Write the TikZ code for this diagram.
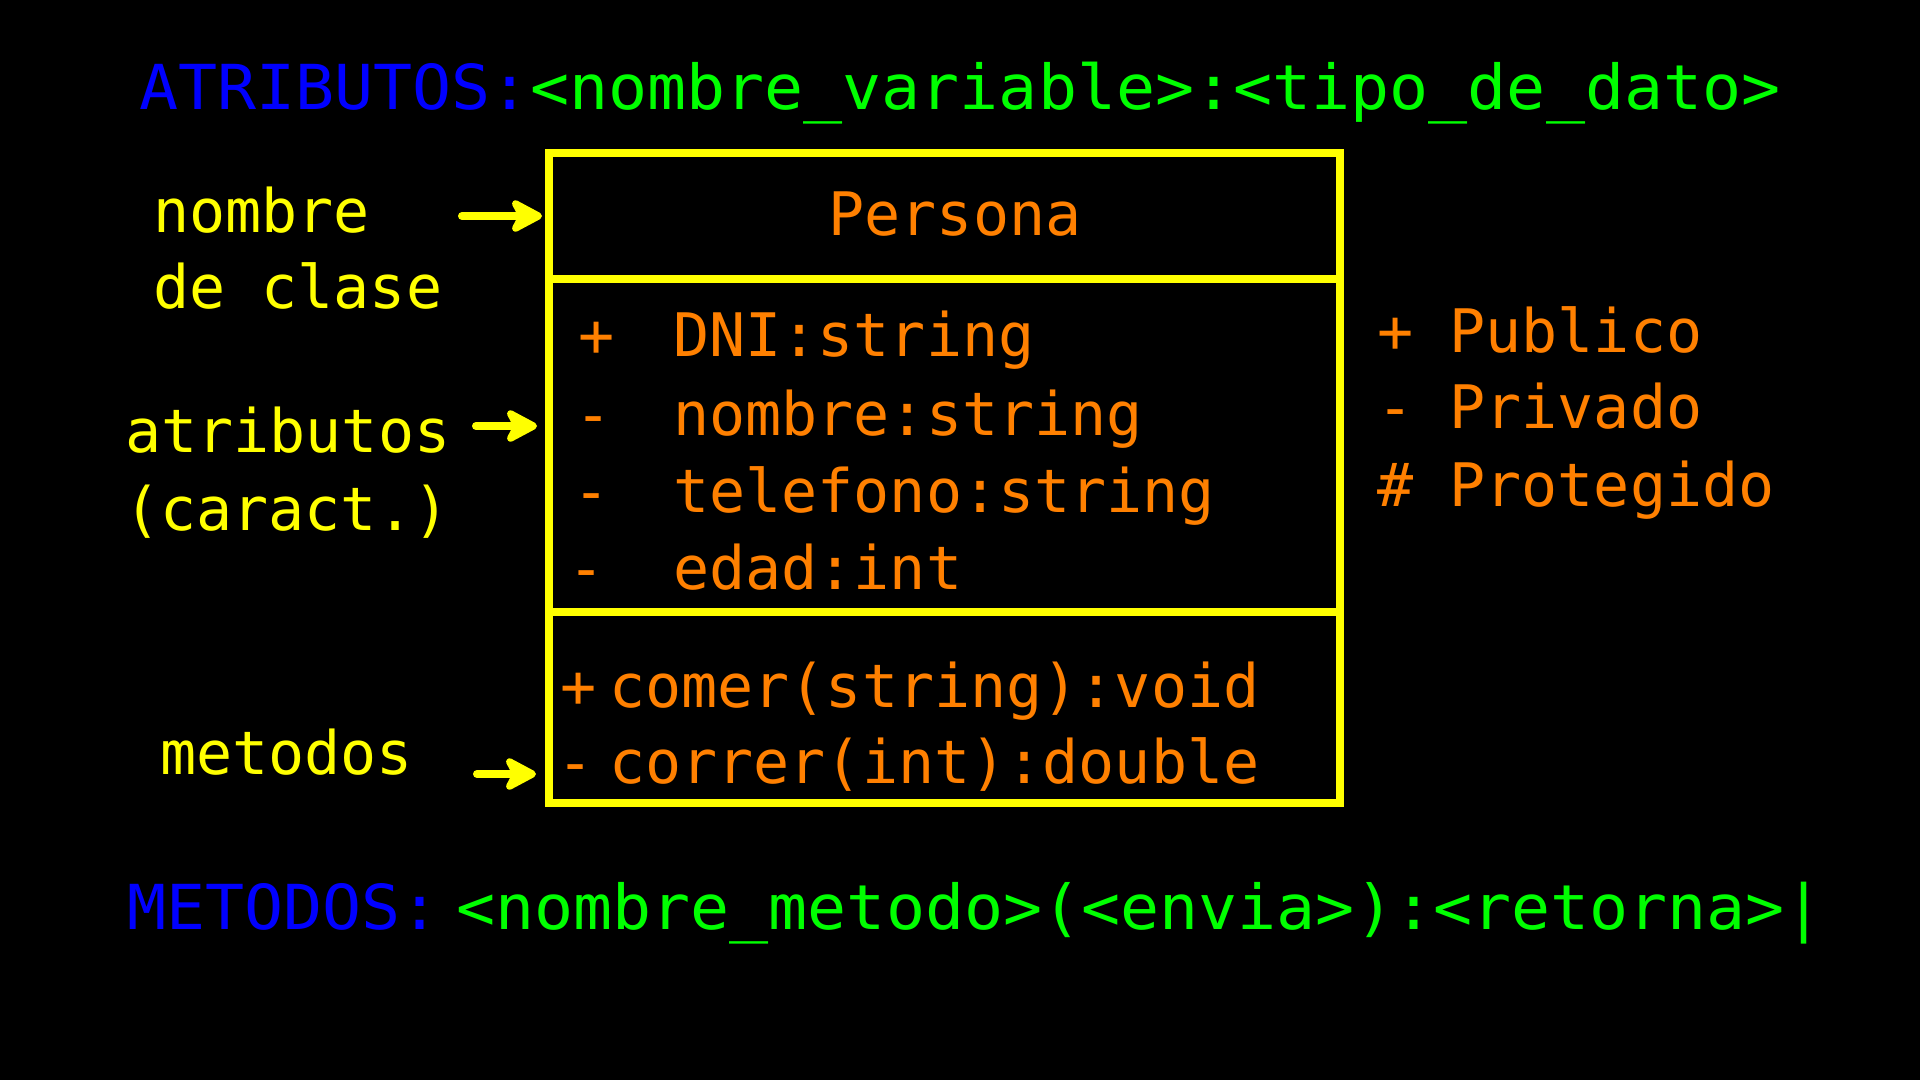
\documentclass[tikz,border=0pt]{standalone}
\usepackage{fontspec}
\usetikzlibrary{arrows.meta}
\newfontfamily\monoA[FakeStretch=1.047]{DejaVu Sans Mono}
\newfontfamily\monoB{DejaVu Sans Mono}
\definecolor{cblue}{RGB}{0,0,255}
\definecolor{cgreen}{RGB}{0,255,0}
\definecolor{cyellow}{RGB}{255,255,0}
\definecolor{corange}{RGB}{255,128,0}
\tikzset{
  headline/.style={anchor=base west, inner sep=0pt, font=\monoA\fontsize{62}{70}\selectfont},
  lbl/.style={anchor=base west, inner sep=0pt, text=cyellow, font=\monoB\fontsize{60}{70}\selectfont},
  member/.style={anchor=base west, inner sep=0pt, text=corange, font=\monoB\fontsize{60}{68}\selectfont},
  sym/.style={anchor=base, inner sep=0pt, text=corange, font=\monoB\fontsize{60}{68}\selectfont},
  legend/.style={anchor=base west, inner sep=0pt, text=corange, font=\monoB\fontsize{60}{70}\selectfont},
  ptr/.style={draw=cyellow, line width=8pt, line cap=round,
    -{Stealth[length=38pt,width=40pt,inset=10pt,round]}},
  boxline/.style={draw=cyellow, line width=8pt}
}
\begin{document}
\begin{tikzpicture}[x=1pt,y=-1pt]
\fill[black] (0,0) rectangle (1920,1080);
\useasboundingbox (0,0) rectangle (1920,1080);

% header lines
\node[headline] (hattr) at (139,109) {\textcolor{cblue}{ATRIBUTOS:}\textcolor{cgreen}{<nombre\_variable>:<tipo\_de\_dato>}};
\node[headline, text=cblue] (hmet) at (127,929) {METODOS:};
\node[headline, text=cgreen] (hmetf) at (456,929) {<nombre\_metodo>(<envia>):<retorna>|};

% class box
\node[boxline, anchor=north west, minimum width=791pt, minimum height=650pt, inner sep=0pt, outer sep=0pt] (box) at (549,153) {};
\coordinate (d1a) at (549,279);
\coordinate (d1b) at (1340,279);
\coordinate (d2a) at (549,612);
\coordinate (d2b) at (1340,612);
\draw[boxline] (d1a) -- (d1b);
\draw[boxline] (d2a) -- (d2b);

\node[anchor=base, inner sep=0pt, text=corange, font=\monoB\fontsize{60}{68}\selectfont] (cname) at (955,235) {Persona};

\node[sym] (s1) at (597,356) {+};
\node[sym] (s2) at (594,435) {-};
\node[sym] (s3) at (592,512) {-};
\node[sym] (s4) at (587,589) {-};
\node[member] (a1) at (673,356) {DNI:string};
\node[member] (a2) at (673,435) {nombre:string};
\node[member] (a3) at (673,512) {telefono:string};
\node[member] (a4) at (673,589) {edad:int};

\node[sym] (s5) at (579,707) {+};
\node[sym] (s6) at (576,783) {-};
\node[member] (m1) at (609,707) {comer(string):void};
\node[member] (m2) at (609,783) {correr(int):double};

% legend
\node[legend] (l1) at (1377,352) {+ Publico};
\node[legend] (l2) at (1377,428) {- Privado};
\node[legend] (l3) at (1377,506) {\# Protegido};

% left labels
\node[lbl] (n1) at (153,232) {nombre};
\node[lbl] (n2) at (153,308) {de clase};
\node[lbl] (n3) at (125,452) {atributos};
\node[lbl] (n4) at (124,530) {(caract.)};
\node[lbl] (n5) at (160,774) {metodos};

% arrows
\coordinate (p1) at (462,216);
\coordinate (q1) at (542,216);
\coordinate (p2) at (476,426);
\coordinate (q2) at (537,426);
\coordinate (p3) at (477,774);
\coordinate (q3) at (536,774);
\draw[ptr] (p1) -- (q1);
\draw[ptr] (p2) -- (q2);
\draw[ptr] (p3) -- (q3);
\end{tikzpicture}
\end{document}
